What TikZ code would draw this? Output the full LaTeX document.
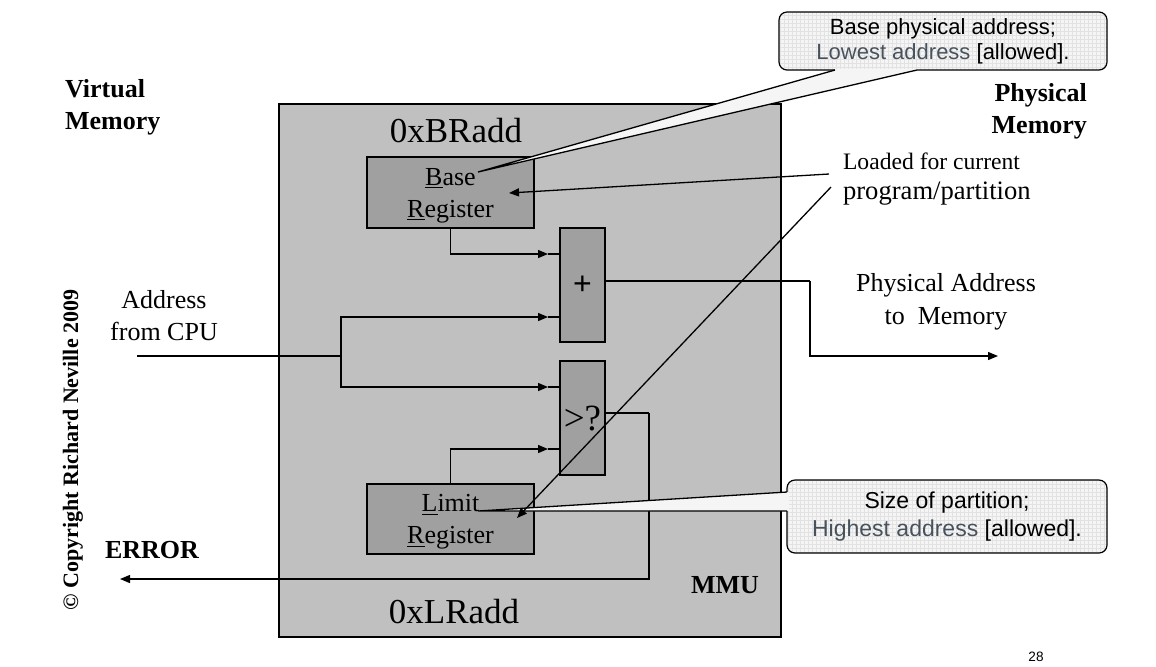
\documentclass[tikz,border=0pt]{standalone}
\usepackage{fontspec}
\setmainfont{Liberation Serif}
\newfontfamily\notefont{Liberation Sans}
\usetikzlibrary{arrows.meta}

\definecolor{mmugray}{RGB}{192,192,192}
\definecolor{reggray}{RGB}{160,160,160}
\definecolor{notegray}{RGB}{245,245,245}
\definecolor{gridgray}{RGB}{226,226,226}
\definecolor{slate}{RGB}{72,82,92}

\begin{document}
\begin{tikzpicture}[x=0.5pt,y=-0.5pt,
	wire/.style={line width=0.65pt},
	stub/.style={line width=1.3pt},
	arr/.style={-{Triangle[length=5pt,width=4pt]}},
	regbox/.style={draw=black,fill=reggray,line width=0.65pt,inner sep=0pt,outer sep=0pt},
	note/.style={draw=black,fill=notegray,rounded corners=4pt,line width=0.6pt,inner sep=0pt,
		path picture={\draw[gridgray,line width=0.25pt,step=2pt] (path picture bounding box.south west) grid (path picture bounding box.north east);}},
	bold/.style={font=\bfseries\fontsize{13}{16}\selectfont},
	plain/.style={font=\fontsize{13}{16}\selectfont}]
	
	\fill[white] (0,0) rectangle (1156,666);
	\useasboundingbox (0,0) rectangle (1156,666);
	
	\node[draw=black,fill=mmugray,line width=0.65pt,inner sep=0pt,minimum width=251pt,minimum height=266.5pt] (mmu) at (530,370.5) {};
	\node[regbox,minimum width=83.5pt,minimum height=35.5pt,plain,align=center,text depth=0pt] (base) at (450.5,192.5) {\underline{B}ase\\\underline{R}egister};
	\node[regbox,minimum width=83.5pt,minimum height=35pt,plain,align=center,text depth=0pt] (limit) at (450.5,519) {\underline{L}imit\\\underline{R}egister};
	\node[regbox,minimum width=22.5pt,minimum height=57pt,font=\notefont\fontsize{16}{18}\selectfont] (plus) at (582.5,285) {+};
	\node[regbox,minimum width=22.5pt,minimum height=57pt,font=\fontsize{18.5}{20}\selectfont] (cmp) at (582.5,418) {>?};
	
	\node[font=\fontsize{17.5}{20}\selectfont] (brtxt) at (456,131) {0xBRadd};
	\node[font=\fontsize{17.5}{20}\selectfont] (lrtxt) at (454,612) {0xLRadd};
	\node[bold] (mmutxt) at (725,585) {MMU};
	
	\coordinate (cpu) at (137,356);
	\coordinate (split) at (341,356);
	\coordinate (pA) at (560,254);
	\coordinate (pB) at (560,317);
	\coordinate (cA) at (560,387);
	\coordinate (cB) at (560,449);
	\coordinate (pOut) at (605,281);
	\coordinate (pBend) at (810,281);
	\coordinate (phys) at (998,356);
	\coordinate (cOut) at (605,413);
	\coordinate (cBend) at (649,413);
	\coordinate (err) at (120,579);
	
	% inputs
	\draw[wire] (cpu) -- (split);
	\draw[wire,arr,shorten >=6pt] (split) |- (pB);
	\draw[wire,arr,shorten >=6pt] (split) |- (cA);
	\draw[wire,arr,shorten >=6pt] (base.south) |- (pA);
	\draw[wire,arr,shorten >=6pt] (limit.north) |- (cB);
	\foreach \p in {pA,pB,cA,cB}
		\draw[stub] (\p) -- ++(-12,0);
	
	% outputs
	\draw[stub] (pOut) -- ++(12,0);
	\draw[wire] (pOut) -- (pBend);
	\draw[wire,arr] (pBend) |- (phys);
	\draw[stub] (cOut) -- ++(12,0);
	\draw[wire] (cOut) -- (cBend);
	\draw[wire,arr] (cBend) |- (err);
	
	\node[anchor=west,align=left,bold] (virt) at (58,107) {Virtual\\Memory};
	\node[anchor=east,align=right,bold] (phm) at (1094,111) {Physical\\Memory};
	\node[align=center,plain] (cputxt) at (164,316) {Address\\from CPU};
	\node[align=center,font=\fontsize{13}{16.5}\selectfont] (phystxt) at (946,302) {Physical Address\\to\ \ Memory};
	\node[bold] (errtxt) at (152,550) {ERROR};
	\node[rotate=90,font=\bfseries\fontsize{11}{13}\selectfont] (copy) at (73,450) {\textcopyright{} Copyright Richard Neville 2009};
	\node[font=\notefont\fontsize{6.8}{8}\selectfont] (pg) at (1036,657) {28};
	
	% callouts
	\node[note,minimum width=164pt,minimum height=29pt,align=center,font=\notefont\fontsize{11}{12.5}\selectfont] (bnote) at (943,41) {Base physical address;\\{\color{slate}Lowest address} [allowed].};
	\coordinate (bpA) at (835,70);
	\coordinate (bpB) at (917,70);
	\coordinate (bptip) at (478,172);
	\fill[notegray] (bptip) -- (bpA) -- (bpB) -- cycle;
	\draw[notegray,line width=1.5pt] (bpA) -- (bpB);
	\draw[wire] (bpA) -- (bptip) -- (bpB);
	
	\node[note,minimum width=160pt,minimum height=36.5pt,align=center,font=\notefont\fontsize{11.5}{14}\selectfont] (lnote) at (947,516.5) {Size of partition;\\{\color{slate}Highest address} [allowed].};
	\coordinate (lpA) at (787,492);
	\coordinate (lpB) at (787,511);
	\coordinate (lptip) at (478,511);
	\fill[notegray] (lptip) -- (lpA) -- (lpB) -- cycle;
	\draw[notegray,line width=1.5pt] (lpA) -- (lpB);
	\draw[wire] (lpA) -- (lptip) -- (lpB);
	
	% loaded note
	\node[anchor=west,align=left] (loaded) at (836,179) {{\fontsize{11.8}{14}\selectfont Loaded for current}\\[3pt]{\fontsize{13.3}{16}\selectfont program/partition}};
	\coordinate (ldA) at (829,174);
	\coordinate (ldB) at (831,187);
	\coordinate (ldbase) at (509,193);
	\coordinate (ldlimit) at (517,518);
	\draw[wire,arr] (ldA) -- (ldbase);
	\draw[wire,arr] (ldB) -- (ldlimit);
	
\end{tikzpicture}
\end{document}
